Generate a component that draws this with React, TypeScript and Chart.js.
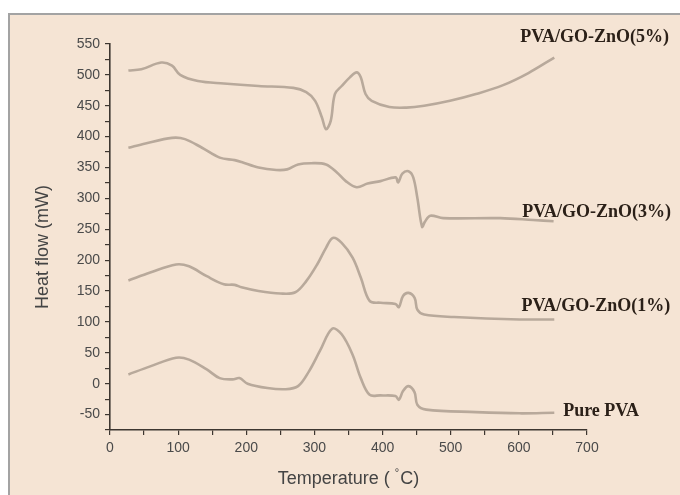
import React, { useEffect, useRef } from "react";
import { Chart, registerables } from "chart.js";

Chart.register(...registerables);

// Temperature (°C) / heat flow (mW)
const pvaGo5T = [27, 46, 75, 91, 103, 129, 167, 218, 269, 288, 301, 311, 317, 324, 330, 340, 352, 362, 368, 375, 384, 410, 435, 461, 499, 537, 576, 614, 652];
const pvaGo5V = [507, 509, 520, 515, 500, 490, 486, 482, 479, 472, 458, 431, 412, 426, 469, 482, 496, 504, 496, 469, 458, 448, 447, 450, 458, 469, 483, 503, 528];

const pvaGo3T = [27, 52, 91, 110, 135, 161, 183, 193, 218, 244, 260, 276, 295, 317, 333, 346, 362, 378, 397, 419, 423, 429, 438, 445, 451, 458, 462, 470, 489, 573, 621, 651];
const pvaGo3V = [382, 389, 398, 396, 382, 366, 362, 359, 350, 346, 347, 355, 357, 355, 342, 328, 318, 324, 328, 334, 326, 340, 344, 334, 301, 254, 262, 272, 268, 268, 265, 263];

const pvaGo1T = [27, 59, 97, 116, 142, 167, 183, 193, 218, 250, 272, 288, 304, 317, 327, 340, 356, 368, 381, 397, 419, 424, 430, 438, 447, 451, 461, 505, 601, 652];
const pvaGo1V = [167, 180, 193, 190, 174, 161, 160, 156, 150, 146, 148, 166, 193, 220, 236, 228, 204, 172, 134, 131, 129, 124, 142, 147, 139, 120, 112, 108, 104, 104];

const pureT = [27, 59, 97, 116, 142, 161, 180, 190, 202, 231, 257, 276, 292, 308, 326, 340, 356, 368, 381, 397, 419, 424, 430, 438, 447, 451, 464, 537, 601, 652];
const pureV = [15, 28, 42, 39, 23, 9, 7, 9, 0, -7, -9, -4, 20, 53, 89, 80, 47, 9, -18, -19, -20, -26, -12, -4, -14, -34, -42, -46, -48, -47];

const seriesNames = ["PVA/GO-ZnO(5%)", "PVA/GO-ZnO(3%)", "PVA/GO-ZnO(1%)", "Pure PVA"];
// label anchor (left edge, vertical centre) in data units
const labelT = [602, 605, 604, 665];
const labelV = [561, 278, 125, -45];

const xMin = 0;
const xMax = 700;
const yMin = -75;
const yMax = 550;

const toPts = (t: number[], v: number[]) => t.map((x, i) => ({ x, y: v[i] }));

export default function App() {
  const ref = useRef<HTMLCanvasElement | null>(null);

  useEffect(() => {
    const canvas = ref.current;
    if (!canvas) return;
    const lineColor = "#b8a99b";
    const mk = (label: string, data: { x: number; y: number }[]) => ({
      label,
      data,
      borderColor: lineColor,
      borderWidth: 2.6,
      pointRadius: 0,
      tension: 0.35,
      fill: false,
    });

    const decor = {
      id: "decor",
      beforeDraw(chart: any) {
        const { ctx, width, height } = chart;
        ctx.save();
        ctx.fillStyle = "#ffffff";
        ctx.fillRect(0, 0, width, height);
        ctx.fillStyle = "#f5e4d4";
        ctx.fillRect(10, 15, width - 10, height - 15);
        ctx.strokeStyle = "#a3a3a3";
        ctx.lineWidth = 2;
        ctx.beginPath();
        ctx.moveTo(9, height);
        ctx.lineTo(9, 14);
        ctx.lineTo(width, 14);
        ctx.stroke();
        ctx.restore();
      },
      afterDraw(chart: any) {
        const { ctx, chartArea, scales } = chart;
        const xs = scales.x;
        const ys = scales.y;
        ctx.save();
        // series labels
        ctx.fillStyle = "#2b2018";
        ctx.font = "bold 18px 'Liberation Serif', 'Times New Roman', serif";
        ctx.textBaseline = "middle";
        ctx.textAlign = "left";
        seriesNames.forEach((n, i) => {
          ctx.fillText(n, xs.getPixelForValue(labelT[i]), ys.getPixelForValue(labelV[i]));
        });
        // axis titles
        ctx.fillStyle = "#444444";
        const p1 = "Temperature ( ";
        const p3 = "C)";
        const supFont = "11px 'Liberation Sans', Arial, sans-serif";
        const mainFont = "18px 'Liberation Sans', Arial, sans-serif";
        ctx.font = mainFont;
        const w1 = ctx.measureText(p1).width;
        const w3 = ctx.measureText(p3).width;
        ctx.font = supFont;
        const w2 = ctx.measureText("°").width + 1;
        const total = w1 + w2 + w3;
        const cx = (chartArea.left + chartArea.right) / 2;
        const ty = chartArea.bottom + 49;
        let sx = cx - total / 2;
        ctx.textAlign = "left";
        ctx.textBaseline = "middle";
        ctx.font = mainFont;
        ctx.fillText(p1, sx, ty);
        sx += w1;
        ctx.font = supFont;
        ctx.fillText("°", sx, ty - 6);
        sx += w2;
        ctx.font = mainFont;
        ctx.fillText(p3, sx, ty);
        // y title
        ctx.translate(43, (chartArea.top + chartArea.bottom) / 2 + 10);
        ctx.rotate(-Math.PI / 2);
        ctx.textAlign = "center";
        ctx.fillText("Heat flow (mW)", 0, 0);
        ctx.restore();
      },
    };

    const axisColor = "#3d3630";
    const tickFont = { family: "'Liberation Sans', Arial, sans-serif", size: 14 };

    const chart = new Chart(canvas, {
      type: "line",
      data: {
        datasets: [
          mk(seriesNames[0], toPts(pvaGo5T, pvaGo5V)),
          mk(seriesNames[1], toPts(pvaGo3T, pvaGo3V)),
          mk(seriesNames[2], toPts(pvaGo1T, pvaGo1V)),
          mk(seriesNames[3], toPts(pureT, pureV)),
        ],
      },
      options: {
        responsive: false,
        animation: false,
        devicePixelRatio: 1,
        layout: { padding: { left: 0, top: 44, right: 93, bottom: 0 } },
        plugins: { legend: { display: false }, tooltip: { enabled: false } },
        scales: {
          x: {
            type: "linear",
            min: xMin,
            max: xMax,
            afterFit: (s: any) => {
              s.height = 65;
            },
            border: { display: true, color: axisColor, width: 1.6 },
            grid: { drawOnChartArea: false, drawTicks: true, tickLength: 5, color: axisColor, lineWidth: 1.2 },
            ticks: {
              stepSize: 50,
              color: "#4a4a4a",
              font: tickFont,
              padding: 5,
              maxRotation: 0,
              autoSkip: false,
              callback: (v: any) => (Number(v) % 100 === 0 ? String(v) : ""),
            },
          },
          y: {
            type: "linear",
            min: yMin,
            max: yMax,
            afterFit: (s: any) => {
              s.width = 110;
            },
            border: { display: true, color: axisColor, width: 1.6 },
            grid: { drawOnChartArea: false, drawTicks: true, tickLength: 5, color: axisColor, lineWidth: 1.2 },
            ticks: {
              stepSize: 25,
              color: "#4a4a4a",
              font: tickFont,
              padding: 5,
              autoSkip: false,
              callback: (v: any) => (Number(v) % 50 === 0 ? String(v) : ""),
            },
          },
        },
      },
      plugins: [decor],
    } as any);

    return () => chart.destroy();
  }, []);

  return (
    <div style={{ position: "fixed", left: 0, top: 0, width: 680, height: 495 }}>
      <canvas ref={ref} width={680} height={495} style={{ display: "block" }} />
    </div>
  );
}
